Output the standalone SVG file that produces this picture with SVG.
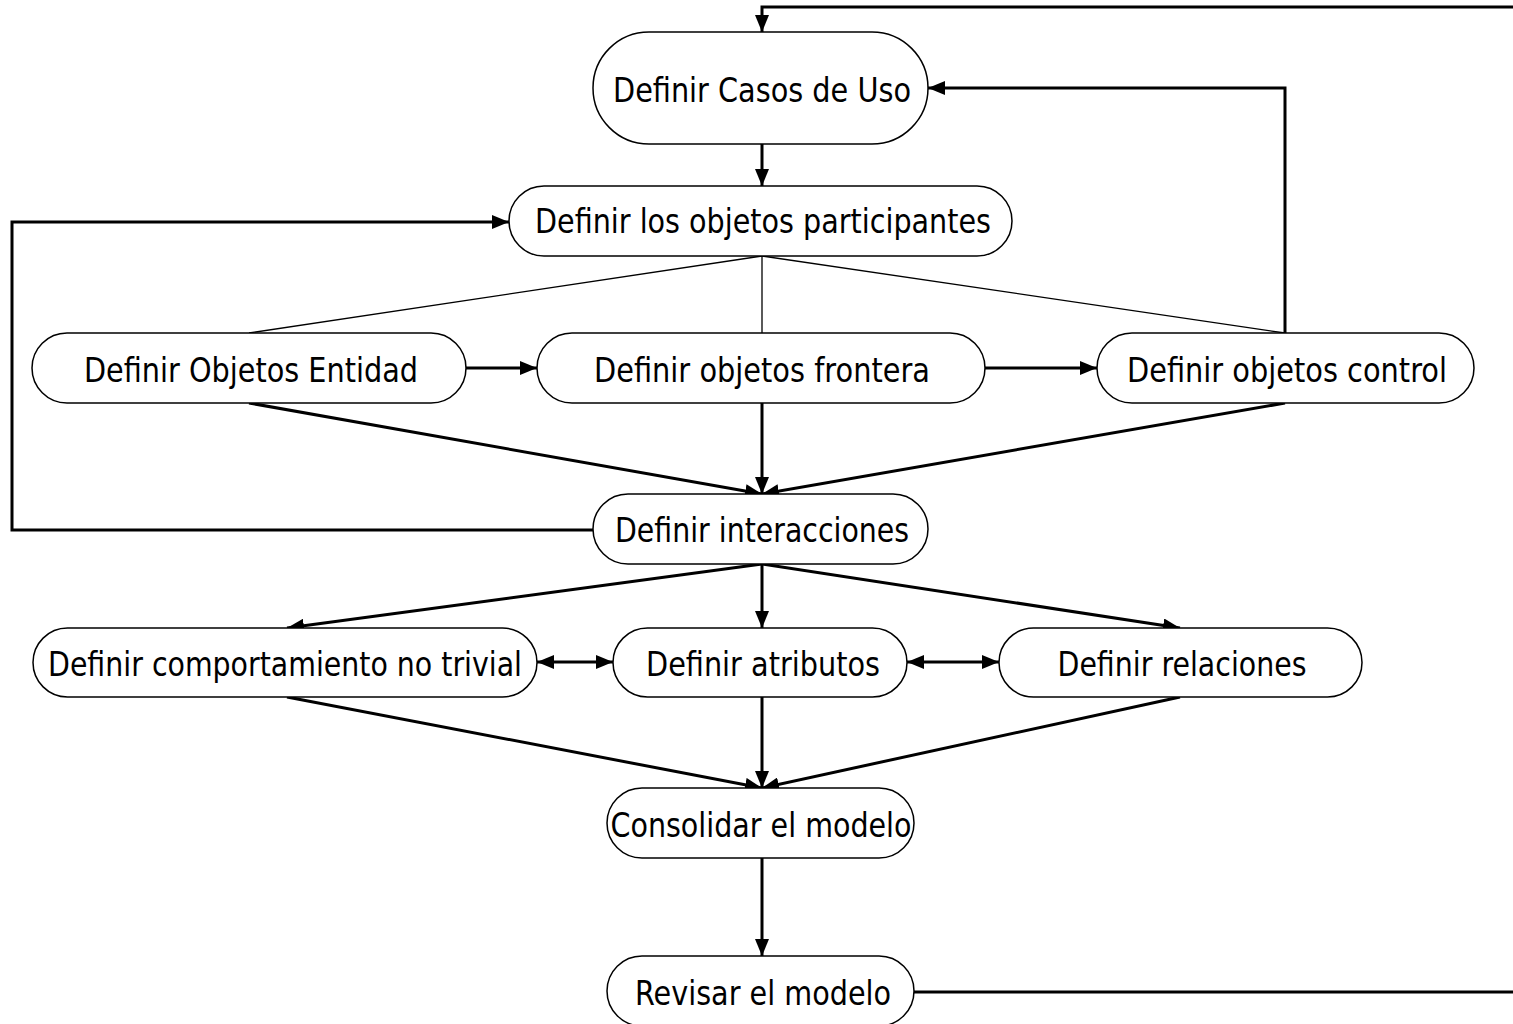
<svg xmlns="http://www.w3.org/2000/svg" width="1513" height="1024" viewBox="0 0 1513 1024">
<style>
.node rect{fill:#fff;stroke:#000;stroke-width:1.5}
.node text{font-family:"DejaVu Sans","Liberation Sans",sans-serif;font-size:33px;fill:#000;text-anchor:middle}
.c{fill:none;stroke:#000;stroke-width:3}
.t{fill:none;stroke:#000;stroke-width:1.3}
</style>
<defs>
<marker id="ah" viewBox="0 0 17 14" refX="17" refY="7" markerWidth="17" markerHeight="14" markerUnits="userSpaceOnUse" orient="auto-start-reverse">
<path d="M0,0 L17,7 L0,14 Z" fill="#000"/>
</marker>
</defs>
<rect width="1513" height="1024" fill="#fff"/>
<g id="connectors">
<path class="c" d="M1513,7 H762 V32" marker-end="url(#ah)"/>
<path class="c" d="M762,144 V186" marker-end="url(#ah)"/>
<path class="c" d="M593,530 H12 V222 H509" marker-end="url(#ah)"/>
<path class="t" d="M762,256 L249,333"/>
<path class="t" d="M762,256 V333"/>
<path class="t" d="M762,256 L1285,333"/>
<path class="c" d="M1285,333 V88 H928" marker-end="url(#ah)"/>
<path class="c" d="M466,368 H537" marker-end="url(#ah)"/>
<path class="c" d="M985,368 H1097" marker-end="url(#ah)"/>
<path class="c" d="M249,403 L762,494" marker-end="url(#ah)"/>
<path class="c" d="M762,403 V494" marker-end="url(#ah)"/>
<path class="c" d="M1285,403 L762,494" marker-end="url(#ah)"/>
<path class="c" d="M762,564 L287,628" marker-end="url(#ah)"/>
<path class="c" d="M762,564 V628" marker-end="url(#ah)"/>
<path class="c" d="M762,564 L1180,628" marker-end="url(#ah)"/>
<path class="c" d="M537,662 H613" marker-start="url(#ah)" marker-end="url(#ah)"/>
<path class="c" d="M907,662 H999" marker-start="url(#ah)" marker-end="url(#ah)"/>
<path class="c" d="M287,697 L762,788" marker-end="url(#ah)"/>
<path class="c" d="M762,697 V788" marker-end="url(#ah)"/>
<path class="c" d="M1180,697 L762,788" marker-end="url(#ah)"/>
<path class="c" d="M762,858 V956" marker-end="url(#ah)"/>
<path class="c" d="M914,992 H1513"/>
</g>
<g id="n-casos" class="node"><rect x="593" y="32" width="335" height="112" rx="56"/><text x="762" y="102" textLength="298" lengthAdjust="spacingAndGlyphs">Definir Casos de Uso</text></g>
<g id="n-participantes" class="node"><rect x="509" y="186" width="503" height="70" rx="35"/><text x="763" y="233" textLength="456" lengthAdjust="spacingAndGlyphs">Definir los objetos participantes</text></g>
<g id="n-entidad" class="node"><rect x="32" y="333" width="434" height="70" rx="35"/><text x="251" y="382" textLength="334" lengthAdjust="spacingAndGlyphs">Definir Objetos Entidad</text></g>
<g id="n-frontera" class="node"><rect x="537" y="333" width="448" height="70" rx="35"/><text x="762" y="382" textLength="336" lengthAdjust="spacingAndGlyphs">Definir objetos frontera</text></g>
<g id="n-control" class="node"><rect x="1097" y="333" width="377" height="70" rx="35"/><text x="1287" y="382" textLength="320" lengthAdjust="spacingAndGlyphs">Definir objetos control</text></g>
<g id="n-interacciones" class="node"><rect x="593" y="494" width="335" height="70" rx="35"/><text x="762" y="542" textLength="294" lengthAdjust="spacingAndGlyphs">Definir interacciones</text></g>
<g id="n-comportamiento" class="node"><rect x="33" y="628" width="504" height="69" rx="34.5"/><text x="285" y="676" textLength="474" lengthAdjust="spacingAndGlyphs">Definir comportamiento no trivial</text></g>
<g id="n-atributos" class="node"><rect x="613" y="628" width="294" height="69" rx="34.5"/><text x="763" y="676" textLength="234" lengthAdjust="spacingAndGlyphs">Definir atributos</text></g>
<g id="n-relaciones" class="node"><rect x="999" y="628" width="363" height="69" rx="34.5"/><text x="1182" y="676" textLength="249" lengthAdjust="spacingAndGlyphs">Definir relaciones</text></g>
<g id="n-consolidar" class="node"><rect x="607" y="788" width="307" height="70" rx="35"/><text x="761" y="837" textLength="301" lengthAdjust="spacingAndGlyphs">Consolidar el modelo</text></g>
<g id="n-revisar" class="node"><rect x="607" y="956" width="307" height="70" rx="35"/><text x="763" y="1005" textLength="256" lengthAdjust="spacingAndGlyphs">Revisar el modelo</text></g>
</svg>
